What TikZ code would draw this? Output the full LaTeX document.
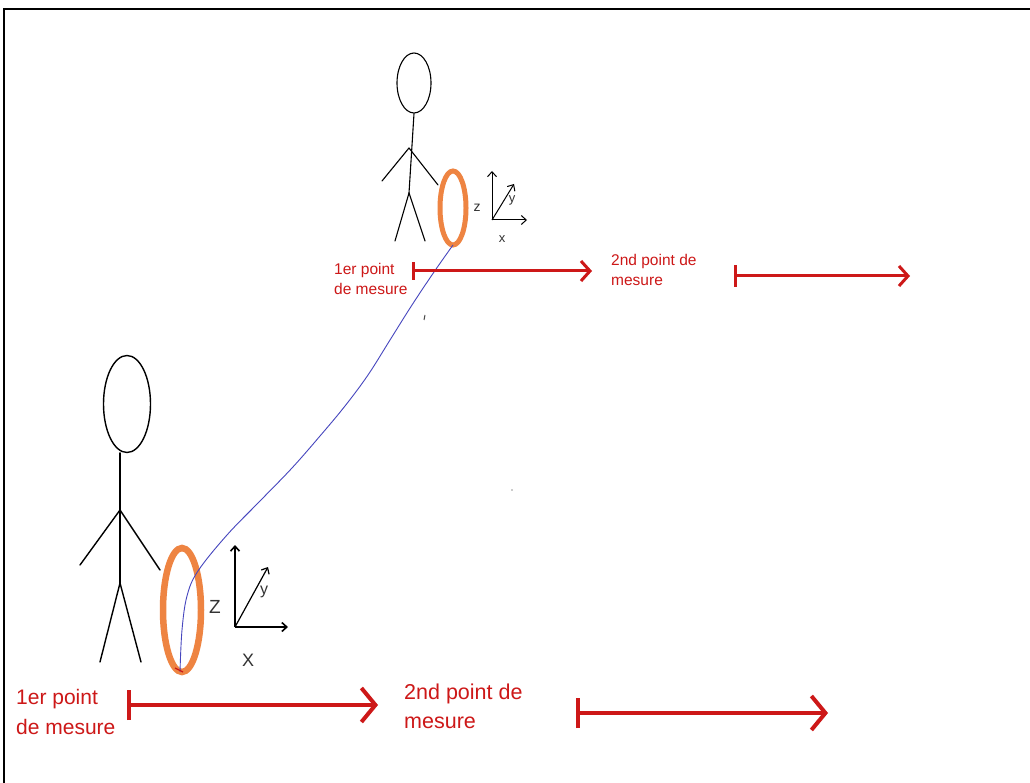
\documentclass[tikz,border=0pt]{standalone}
\usepackage{fontspec}
\setmainfont{Liberation Sans}
\usetikzlibrary{arrows.meta,shapes.geometric}
\definecolor{ringorange}{RGB}{238,132,66}
\definecolor{measred}{RGB}{205,24,24}
\definecolor{pathblue}{RGB}{70,70,190}
\tikzset{
  figure/.style={line width=#1, black, line cap=round},
  ring/.style={draw=ringorange, ellipse, inner sep=0pt},
  axis/.style={line width=#1, black, -{Straight Barb[length=5pt,width=9pt]}},
  measure/.style={measred, line width=#1},
  measlabel/.style={measred, inner sep=0pt, anchor=west, align=left},
  axlabel/.style={inner sep=0pt, text=black!80}
}
\begin{document}
\begin{tikzpicture}[x=1pt,y=-1pt]
\useasboundingbox (0,0) rectangle (1030,783);
\fill[white] (0,0) rectangle (1030,783);
% frame (top and left edges)
\draw[line width=2.5] (4,783) -- (4,9) -- (1030,9);

% ---------- small (far) figure ----------
\node[draw, ellipse, line width=1.1, minimum width=34, minimum height=60, inner sep=0] (headA) at (414,83) {};
\coordinate (shA) at (409,148);
\coordinate (hipA) at (409,193);
\draw[figure=1.1] (headA.south) -- (hipA);
\draw[figure=1.1] (shA) -- (382,181);
\draw[figure=1.1] (shA) -- (438,185);
\draw[figure=1.1] (hipA) -- (395,241);
\draw[figure=1.1] (hipA) -- (425,241);
\node[ring, line width=5, minimum width=26, minimum height=74] (ringA) at (453,208) {};
% axes
\coordinate (oA) at (492,220);
\draw[axis=1] (oA) -- (492,171);
\draw[axis=1] (oA) -- (527,220);
\draw[axis=1] (oA) -- (514,184);
\node[axlabel, font=\fontsize{14}{14}\selectfont] (zA) at (477,208) {z};
\node[axlabel, font=\fontsize{13}{13}\selectfont] (yA) at (512,200) {y};
\node[axlabel, font=\fontsize{13}{13}\selectfont] (xA) at (502,239) {x};

% ---------- large (near) figure ----------
\node[draw, ellipse, line width=1.4, minimum width=47, minimum height=97, inner sep=0] (headB) at (127,404) {};
\coordinate (shB) at (120,510);
\coordinate (hipB) at (120,583);
\draw[figure=2] (headB.south -| hipB) -- (hipB);
\draw[figure=1.4] (shB) -- (80,565);
\draw[figure=1.4] (shB) -- (160,570);
\draw[figure=1.4] (hipB) -- (100,662);
\draw[figure=1.4] (hipB) -- (141,662);
\node[ring, line width=6.5, minimum width=38, minimum height=124] (ringB) at (182,610) {};
% axes
\coordinate (oB) at (235,627);
\draw[axis=1.6] (oB) -- (235,545);
\draw[axis=1.6] (oB) -- (288,627);
\draw[axis=1.2] (oB) -- (268,567);
\node[axlabel, font=\fontsize{19}{19}\selectfont] (zB) at (215,607) {Z};
\node[axlabel, font=\fontsize{16}{16}\selectfont] (yB) at (264,592) {y};
\node[axlabel, font=\fontsize{18}{18}\selectfont] (xB) at (248,660) {X};

% trajectory between the two measuring positions
\coordinate (startB) at (180,672);
\coordinate (endA) at (453,245);
\draw[pathblue, line width=0.9] plot[smooth, tension=0.6] coordinates {
  (startB) (182,630) (187,596) (198,571) (227,535) (260,501) (292,468)
  (320,436) (345,406) (368,375) (390,340) (412,305) (434,272) (endA)};
\draw[measred, line width=1.2] (175,668) -- (183,672);
\draw[black!70, line width=1] (425,315) -- (424,320);
\fill[black!40] (512,490) circle (0.8);

% ---------- measuring segments, far ----------
\node[measlabel, font=\fontsize{15.5}{20}\selectfont] (lblA1) at (334,279) {1er point\\de mesure};
\coordinate (a1s) at (412,271);
\coordinate (a1e) at (592,271);
\draw[measure=3, {Bar[width=18pt]}-{Straight Barb[length=9pt,width=20pt,line width=3pt]}] (a1s) -- (a1e);
\node[measlabel, font=\fontsize{15.5}{20}\selectfont] (lblA2) at (611,270) {2nd point de\\mesure};
\coordinate (a2s) at (734,276);
\coordinate (a2e) at (910,276);
\draw[measure=3, {Bar[width=22pt]}-{Straight Barb[length=9pt,width=20pt,line width=3pt]}] (a2s) -- (a2e);

% ---------- measuring segments, near ----------
\node[measlabel, font=\fontsize{21}{30}\selectfont] (lblB1) at (16,712) {1er point\\de mesure};
\coordinate (b1s) at (127,705);
\coordinate (b1e) at (378,705);
\draw[measure=4, {Bar[width=30pt]}-{Straight Barb[length=14pt,width=34pt,line width=4pt]}] (b1s) -- (b1e);
\node[measlabel, font=\fontsize{21.5}{29}\selectfont] (lblB2) at (404,706) {2nd point de\\mesure};
\coordinate (b2s) at (576,713);
\coordinate (b2e) at (828,713);
\draw[measure=4, {Bar[width=30pt]}-{Straight Barb[length=14pt,width=34pt,line width=4pt]}] (b2s) -- (b2e);
\end{tikzpicture}
\end{document}
